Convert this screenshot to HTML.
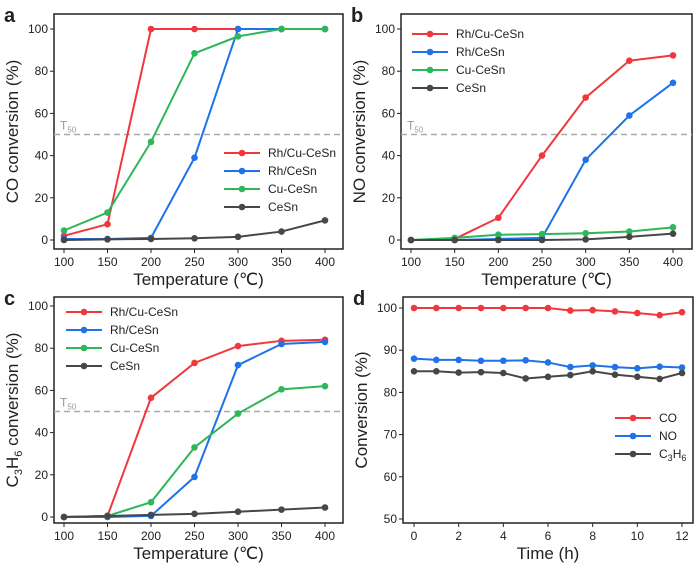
<!DOCTYPE html>
<html><head><meta charset="utf-8"><style>
body{margin:0;background:#fff;}
svg text{font-family:"Liberation Sans",sans-serif;fill:#222;}
</style></head><body>
<svg id="s" width="700" height="568" xmlns="http://www.w3.org/2000/svg"></svg>
<script>
const temps=[100,150,200,250,300,350,400];
const seriesNames=["Rh/Cu-CeSn","Rh/CeSn","Cu-CeSn","CeSn"];
const coRhCu=[2,7.5,100,100,100,100,100];
const coRh=[0.5,0.5,1,39,100,100,100];
const coCu=[4.5,13,46.5,88.5,96.5,100,100];
const coCe=[0,0.3,0.5,0.8,1.5,4,9.3];
const noRhCu=[0,0.5,10.5,40,67.5,85,87.5];
const noRh=[0,0,0.5,1,38,59,74.5];
const noCu=[0,1,2.5,2.8,3.2,4,6];
const noCe=[0,0,0,0,0.3,1.5,3];
const c3RhCu=[0,0.5,56.5,73,81,83.5,84];
const c3Rh=[0,0,0.5,19,72,82,83];
const c3Cu=[0,0.5,7,33,49,60.5,62];
const c3Ce=[0,0.5,1,1.5,2.5,3.5,4.5];
const hours=[0,1,2,3,4,5,6,7,8,9,10,11,12];
const stabCO=[100,100,100,100,100,100,100,99.4,99.5,99.2,98.8,98.3,99];
const stabNO=[88,87.7,87.7,87.5,87.5,87.6,87.1,86,86.4,86,85.7,86.1,85.9];
const stabC3=[85,85,84.7,84.8,84.6,83.3,83.7,84.1,85,84.2,83.7,83.2,84.6];
const tempTicks=[100,150,200,250,300,350,400];
const convTicks=[0,20,40,60,80,100];
const hourTicks=[0,2,4,6,8,10,12];
const stabTicks=[50,60,70,80,90,100];
const colors=["#f0383c","#1f72e8","#2db65a","#474747"];
const NS="http://www.w3.org/2000/svg";
const svg=document.getElementById('s');
function el(tag,attrs,parent){const e=document.createElementNS(NS,tag);for(const k in attrs)e.setAttribute(k,attrs[k]);(parent||svg).appendChild(e);return e;}
function panel(o){
  const g=el('g',{});
  
  
  const sx=v=>o.px0+(v-o.x0)/(o.x1-o.x0)*(o.px1-o.px0);
  const sy=v=>o.py0+(v-o.y0)/(o.y1-o.y0)*(o.py1-o.py0);
  const fr=el('rect',{x:o.fx0,y:o.fy0,width:o.fx1-o.fx0,height:o.fy1-o.fy0,fill:'none',stroke:'#222','stroke-width':1.5},g);
  
  const lt=el('text',{x:o.fx0-50,y:o.fy0+8,'font-size':20,'font-weight':'bold'},g);lt.textContent=o.letter;
  
  o.xt.forEach(v=>{el('line',{x1:sx(v),x2:sx(v),y1:o.fy1,y2:o.fy1+4,stroke:'#222'},g);
    const t=el('text',{x:sx(v),y:o.fy1+17,'font-size':12,'text-anchor':'middle'},g);t.textContent=v;
    });
  o.yt.forEach(v=>{el('line',{x1:o.fx0-4,x2:o.fx0,y1:sy(v),y2:sy(v),stroke:'#222'},g);
    const t=el('text',{x:o.fx0-6,y:sy(v)+4,'font-size':12,'text-anchor':'end'},g);t.textContent=v;
    });
  const xl=el('text',{x:(o.fx0+o.fx1)/2,y:o.fy1+36,'font-size':17,'text-anchor':'middle'},g);xl.innerHTML=o.xlabel;
  
  const cy=(o.fy0+o.fy1)/2;
  const yl=el('text',{x:o.fx0-36,y:cy,'font-size':17,'text-anchor':'middle',transform:`rotate(-90 ${o.fx0-36} ${cy})`},g);yl.innerHTML=o.ylabel;
  
  if(o.t50){const d=el('line',{x1:o.fx0,x2:o.fx1,y1:sy(50),y2:sy(50),stroke:'#aaa','stroke-width':1.5,'stroke-dasharray':'6,4'},g);
    
    const t=el('text',{x:o.fx0+6,y:sy(50)-5,'font-size':12,fill:'#999',style:'fill:#999'},g);t.innerHTML='T<tspan font-size="8" dy="3">50</tspan>';
    }
  o.series.forEach((ys,i)=>{
    const pts=ys.map((v,j)=>sx(o.xs[j])+','+sy(v)).join(' ');
    const pl=el('polyline',{points:pts,fill:'none',stroke:colors[o.cidx[i]],'stroke-width':2},g);
    
    
    ys.forEach((v,j)=>{const c=el('circle',{cx:sx(o.xs[j]),cy:sy(v),r:3.3,fill:colors[o.cidx[i]]},g);
      });
  });
  o.names.forEach((n,i)=>{const y=o.ly+i*18;const col=colors[o.cidx[i]];
    el('line',{x1:o.lx,x2:o.lx+36,y1:y,y2:y,stroke:col,'stroke-width':2},g);
    el('circle',{cx:o.lx+18,cy:y,r:3.3,fill:col},g);
    const t=el('text',{x:o.lx+44,y:y+4,'font-size':12},g);t.innerHTML=n;
    });
}
const C3='C<tspan font-size="9" dy="3">3</tspan><tspan dy="-3">H</tspan><tspan font-size="9" dy="3">6</tspan>';
const base={x0:100,x1:400,y0:0,y1:100,xt:tempTicks,yt:convTicks,xs:temps,xlabel:'Temperature (℃)',t50:true,names:seriesNames,cidx:[0,1,2,3]};
panel(Object.assign({},base,{letter:'a',fx0:54,fx1:343,fy0:14,fy1:249,px0:64,px1:325,py0:240,py1:29,ylabel:'CO conversion (%)',series:[coRhCu,coRh,coCu,coCe],lx:224,ly:153}));
panel(Object.assign({},base,{letter:'b',fx0:401,fx1:692,fy0:14,fy1:249,px0:411,px1:673,py0:240,py1:29,ylabel:'NO conversion (%)',series:[noRhCu,noRh,noCu,noCe],lx:412,ly:34}));
panel(Object.assign({},base,{letter:'c',fx0:54,fx1:343,fy0:297,fy1:523,px0:64,px1:325,py0:517,py1:306,ylabel:'C<tspan font-size="11" dy="4">3</tspan><tspan dy="-4">H</tspan><tspan font-size="11" dy="4">6</tspan><tspan dy="-4"> conversion (%)</tspan>',series:[c3RhCu,c3Rh,c3Cu,c3Ce],lx:66,ly:312}));
panel({letter:'d',x0:0,x1:12,y0:50,y1:100,xt:hourTicks,yt:stabTicks,xs:hours,xlabel:'Time (h)',ylabel:'Conversion (%)',t50:false,names:['CO','NO',C3],cidx:[0,1,3],series:[stabCO,stabNO,stabC3],fx0:403,fx1:693,fy0:297,fy1:523,px0:414,px1:682,py0:519,py1:308,lx:615,ly:418});
</script>
</body></html>
